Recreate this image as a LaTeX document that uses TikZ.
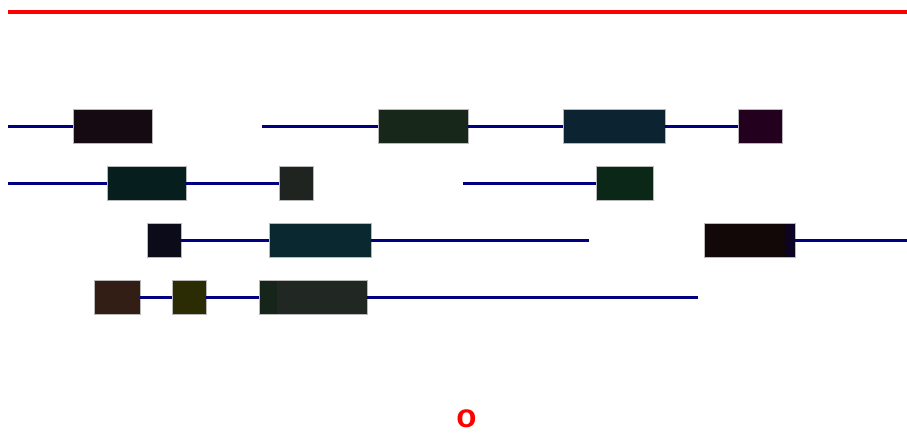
\documentclass[tikz,border=0pt]{standalone}
\usepackage{fontspec}
\setsansfont{Liberation Sans}
\definecolor{intronblue}{RGB}{0,0,128}
\definecolor{exA}{HTML}{150A11}
\definecolor{exB}{HTML}{17281A}
\definecolor{exC}{HTML}{0C2431}
\definecolor{exD}{HTML}{24001F}
\definecolor{exE}{HTML}{061E1E}
\definecolor{exF}{HTML}{1F2420}
\definecolor{exG}{HTML}{0A2717}
\definecolor{exH}{HTML}{0B0B19}
\definecolor{exI}{HTML}{0A2830}
\definecolor{exJ}{HTML}{120808}
\definecolor{exK}{HTML}{0C0422}
\definecolor{exL}{HTML}{331E16}
\definecolor{exM}{HTML}{2C2C04}
\definecolor{exN}{HTML}{16241A}
\definecolor{exO}{HTML}{212824}
\begin{document}
\begin{tikzpicture}[x=1pt,y=-1pt,
	exon/.style={draw=gray!55, line width=0.5pt, inner sep=0pt, minimum height=34pt},
	inner/.style={inner sep=0pt, minimum height=33pt},
	intron/.style={draw=intronblue, line width=3pt}]
	\useasboundingbox (0,0) rectangle (907,432);
	\draw[red, line width=4.5pt] (8,12) -- (907,12);
	% row 1
	\coordinate (s1) at (8,126);
	\coordinate (s2) at (262,126);
	\node[exon, fill=exA, minimum width=79pt] (a1) at (112.5,126) {};
	\node[exon, fill=exB, minimum width=90pt] (a2) at (423,126) {};
	\node[exon, fill=exC, minimum width=102pt] (a3) at (614,126) {};
	\node[exon, fill=exD, minimum width=44pt] (a4) at (760,126) {};
	\draw[intron] (s1) -- (a1.west);
	\draw[intron] (s2) -- (a2.west);
	\draw[intron] (a2.east) -- (a3.west);
	\draw[intron] (a3.east) -- (a4.west);
	% row 2
	\coordinate (s3) at (8,183);
	\coordinate (s4) at (463,183);
	\node[exon, fill=exE, minimum width=79pt] (b1) at (146.5,183) {};
	\node[exon, fill=exF, minimum width=34pt] (b2) at (296,183) {};
	\node[exon, fill=exG, minimum width=57pt] (b3) at (624.5,183) {};
	\draw[intron] (s3) -- (b1.west);
	\draw[intron] (b1.east) -- (b2.west);
	\draw[intron] (s4) -- (b3.west);
	% row 3
	\coordinate (e1) at (589,240);
	\coordinate (e2) at (907,240);
	\node[exon, fill=exH, minimum width=34pt] (c1) at (164,240) {};
	\node[exon, fill=exI, minimum width=102pt] (c2) at (320,240) {};
	\node[exon, fill=exJ, minimum width=91pt] (c3) at (749.5,240) {};
	\node[inner, fill=exK, minimum width=10pt] (c4) at (790,240) {};
	\draw[intron] (c1.east) -- (c2.west);
	\draw[intron] (c2.east) -- (e1);
	\draw[intron] (c3.east) -- (e2);
	% row 4
	\coordinate (e3) at (698,297);
	\node[exon, fill=exL, minimum width=46pt] (d1) at (117,297) {};
	\node[exon, fill=exM, minimum width=34pt] (d2) at (189,297) {};
	\node[exon, fill=exO, minimum width=108pt] (d3) at (313,297) {};
	\node[inner, fill=exN, minimum width=17pt] (d4) at (268,297) {};
	\draw[intron] (d1.east) -- (d2.west);
	\draw[intron] (d2.east) -- (d3.west);
	\draw[intron] (d3.east) -- (e3);
	% label
	\node[text=red, font=\sffamily\bfseries\fontsize{33}{33}\selectfont, inner sep=0pt] (lbl) at (466.5,418.5) {o};
\end{tikzpicture}
\end{document}
